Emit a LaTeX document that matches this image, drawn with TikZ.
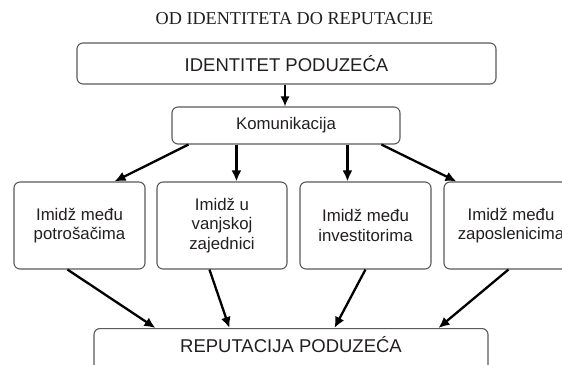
\documentclass[tikz,border=0pt]{standalone}
\usepackage{fontspec}
\setmainfont{Liberation Sans}
\newfontfamily\titlefont{Liberation Serif}
\usetikzlibrary{arrows.meta}
\definecolor{boxgray}{HTML}{5A5A5A}
\definecolor{txt}{HTML}{231F20}
\begin{document}
\begin{tikzpicture}[x=1pt,y=-1pt,
  box/.style={draw=boxgray, line width=1.1pt, rounded corners=6pt, inner sep=0pt, align=center, text=txt},
  bigtxt/.style={font=\fontsize{18.5}{21}\selectfont},
  smalltxt/.style={font=\fontsize{16.8}{19.5}\selectfont},
  arr/.style={draw=black, line width=2.3pt, -{Latex[length=11pt,width=10pt]}},
  thinarr/.style={draw=black, line width=1.5pt, -{Latex[length=10pt,width=9pt]}}]
\useasboundingbox (0,0) rectangle (562,364);
\clip (0,0) rectangle (562,364);
\fill[white] (0,0) rectangle (562,364);

\node[text=txt, font=\titlefont\fontsize{18.2}{21}\selectfont] (title) at (294.5,19) {OD IDENTITETA DO REPUTACIJE};

\node[box, bigtxt, minimum width=419pt, minimum height=41pt] (ident) at (286.5,63.5) {IDENTITET PODUZEĆA};
\node[box, smalltxt, minimum width=228pt, minimum height=37pt] (kom) at (286,125.5) {Komunikacija};

\node[box, smalltxt, minimum width=131pt, minimum height=87pt] (b1) at (79.5,225.5) {Imidž među\\potrošačima};
\node[box, smalltxt, minimum width=130pt, minimum height=87pt] (b2) at (222,225.5) {Imidž u\\vanjskoj\\zajednici};
\node[box, smalltxt, minimum width=131pt, minimum height=87pt] (b3) at (365.5,225.5) {Imidž među\\investitorima};
\node[box, smalltxt, minimum width=134pt, minimum height=87pt] (b4) at (511,225.5) {Imidž među\\zaposlenicima};

\node[box, bigtxt, anchor=north, minimum width=394pt, text height=23.5pt, text depth=30pt] (rep) at (291,328) {REPUTACIJA PODUZEĆA};

\draw[thinarr] ([xshift=-1.5pt]ident.south) -- ([xshift=-1pt]kom.north);

\draw[arr] ([xshift=17pt]kom.south west) -- ([xshift=101pt]b1.north west);
\draw[arr] ([xshift=65pt]kom.south west) -- ([xshift=80pt]b2.north west);
\draw[arr] ([xshift=176pt]kom.south west) -- ([xshift=48pt]b3.north west);
\draw[arr] ([xshift=210pt]kom.south west) -- ([xshift=13pt]b4.north west);

\draw[arr] ([xshift=54pt]b1.south west) -- ([xshift=62pt]rep.north west);
\draw[arr] ([xshift=53pt]b2.south west) -- ([xshift=136pt]rep.north west);
\draw[arr] ([xshift=66pt]b3.south west) -- ([xshift=241pt]rep.north west);
\draw[arr] ([xshift=65pt]b4.south west) -- ([xshift=345pt]rep.north west);
\end{tikzpicture}
\end{document}
